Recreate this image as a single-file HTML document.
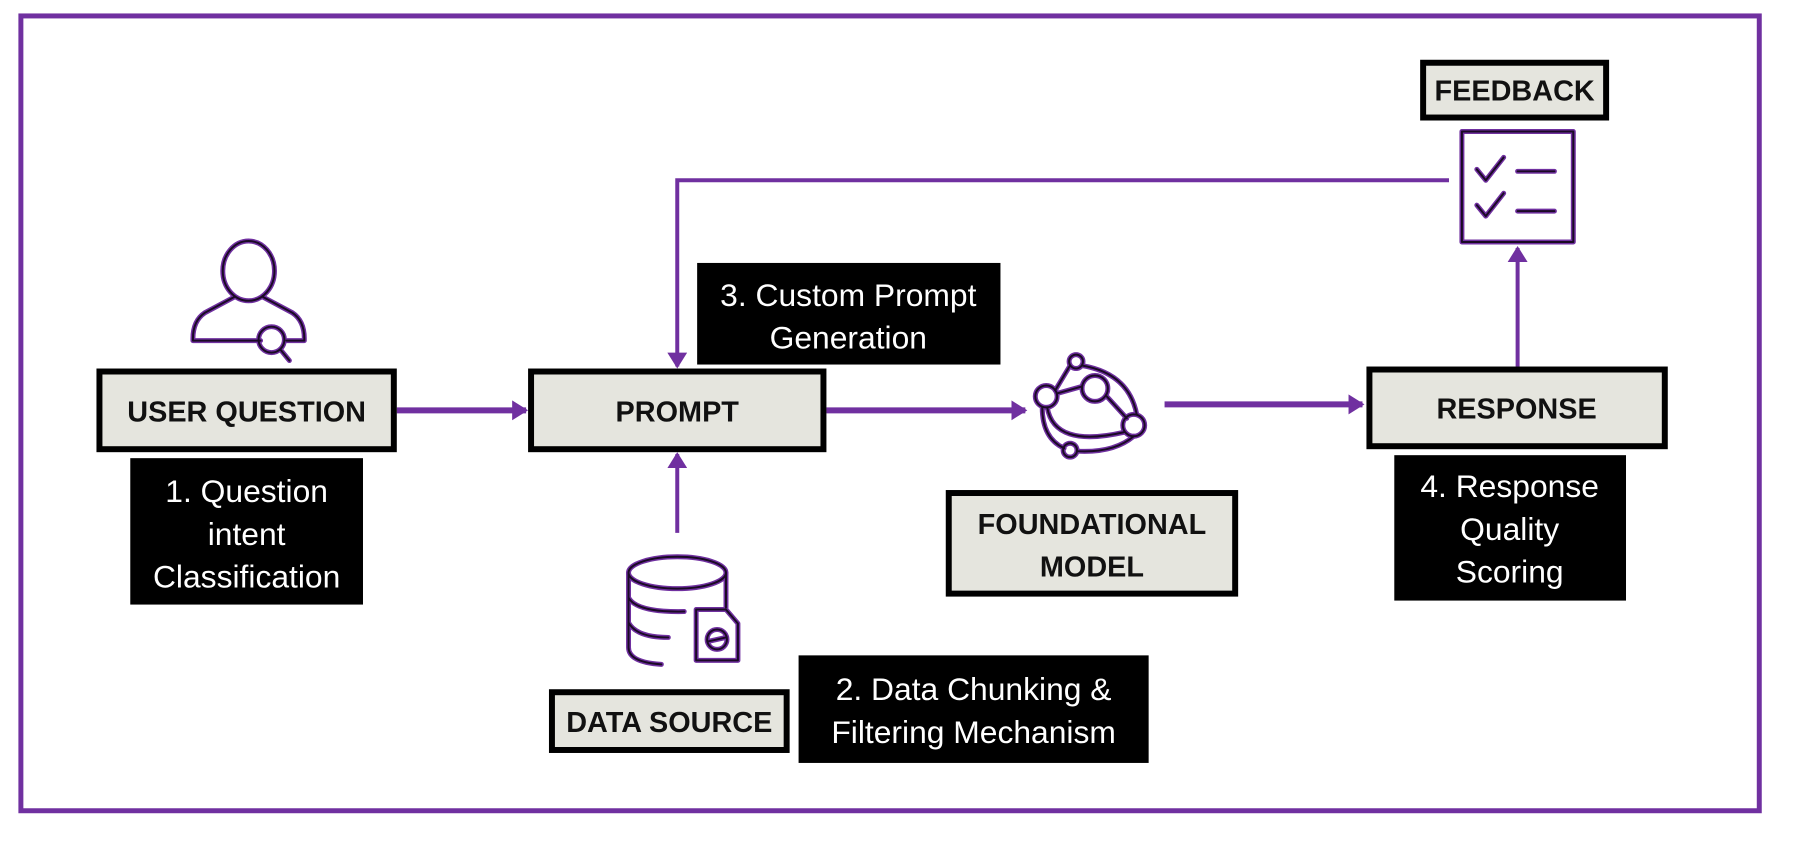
<!DOCTYPE html>
<html><head><meta charset="utf-8"><style>
html,body{margin:0;padding:0;background:#fff;}
svg{display:block;}
.bt{font-family:"Liberation Sans",sans-serif;font-weight:bold;font-size:29px;fill:#111;}
.lt{font-family:"Liberation Sans",sans-serif;font-size:32px;fill:#fff;}
</style></head><body>
<svg width="1794" height="851" viewBox="0 0 1794 851" xmlns="http://www.w3.org/2000/svg">
<defs>
<marker id="ah2" markerWidth="16" markerHeight="20" refX="14" refY="10" orient="auto" markerUnits="userSpaceOnUse" viewBox="0 0 16 20">
<path d="M0,0 L16,10 L0,20 z" fill="#7030a0"/></marker>
</defs>
<g transform="scale(0.9945,0.996)">
<rect x="21" y="16" width="1748" height="798" fill="none" stroke="#7030a0" stroke-width="5"/>

<g stroke="#7030a0" fill="none">
<line x1="399" y1="412" x2="529" y2="412" stroke-width="6" marker-end="url(#ah2)"/>
<line x1="831" y1="412" x2="1031" y2="412" stroke-width="6" marker-end="url(#ah2)"/>
<line x1="1171" y1="406" x2="1370" y2="406" stroke-width="6" marker-end="url(#ah2)"/>
<polyline points="1457,181 681,181 681,368" stroke-width="4" marker-end="url(#ah2)"/>
<line x1="681" y1="535" x2="681" y2="456" stroke-width="4" marker-end="url(#ah2)"/>
<line x1="1526" y1="368" x2="1526" y2="249" stroke-width="4" marker-end="url(#ah2)"/>
</g>

<g fill="#e5e5de" stroke="#000" stroke-width="6">
<rect x="100" y="373" width="296" height="78"/>
<rect x="534" y="373" width="294" height="78"/>
<rect x="1377" y="371" width="297" height="77"/>
<rect x="1431" y="63" width="184" height="55"/>
<rect x="954" y="495" width="288" height="101"/>
<rect x="555" y="695" width="236" height="58"/>
</g>
<text class="bt" x="248" y="423" text-anchor="middle">USER QUESTION</text>
<text class="bt" x="681" y="423" text-anchor="middle">PROMPT</text>
<text class="bt" x="1525" y="420" text-anchor="middle">RESPONSE</text>
<text class="bt" x="1523" y="101" text-anchor="middle">FEEDBACK</text>
<text class="bt" x="1098" y="536" text-anchor="middle">FOUNDATIONAL</text>
<text class="bt" x="1098" y="579" text-anchor="middle">MODEL</text>
<text class="bt" x="673" y="735" text-anchor="middle">DATA SOURCE</text>

<rect x="131" y="460" width="234" height="147" fill="#000"/>
<text class="lt" x="248" y="504" text-anchor="middle">1. Question</text>
<text class="lt" x="248" y="547" text-anchor="middle">intent</text>
<text class="lt" x="248" y="590" text-anchor="middle">Classification</text>
<rect x="701" y="264" width="305" height="102" fill="#000"/>
<text class="lt" x="853" y="307" text-anchor="middle">3. Custom Prompt</text>
<text class="lt" x="853" y="350" text-anchor="middle">Generation</text>
<rect x="1402" y="457" width="233" height="146" fill="#000"/>
<text class="lt" x="1518" y="499" text-anchor="middle">4. Response</text>
<text class="lt" x="1518" y="542" text-anchor="middle">Quality</text>
<text class="lt" x="1518" y="585" text-anchor="middle">Scoring</text>
<rect x="803" y="658" width="352" height="108" fill="#000"/>
<text class="lt" x="979" y="703" text-anchor="middle">2. Data Chunking &amp;</text>
<text class="lt" x="979" y="746" text-anchor="middle">Filtering Mechanism</text>

<g fill="none" stroke-linecap="round" stroke-linejoin="round">
<g stroke="#7030a0" stroke-width="5">
 <ellipse cx="250" cy="272" rx="26" ry="30"/>
 <path d="M236,298 L206,314 Q194,322 194,340 L194,342 L262,342 M288,342 L306,342 L306,340 Q306,322 294,314 L264,298"/>
 <circle cx="273" cy="341" r="13"/><line x1="282" y1="351" x2="291" y2="362"/>
 <circle cx="1082" cy="363" r="7"/><circle cx="1101" cy="390" r="13"/><circle cx="1052" cy="398" r="11"/><circle cx="1140" cy="427" r="11"/><circle cx="1076" cy="452" r="7"/>
 <path d="M1088,367 Q1135,375 1143,416"/><path d="M1063,395 L1088,388 M1112,397 L1133,420"/><path d="M1053,409 Q1060,450 1130,434"/><path d="M1048,409 Q1048,440 1070,450 M1083,453 Q1120,455 1140,438"/><path d="M1061,392 L1076,367"/>
 <ellipse cx="681" cy="575" rx="49" ry="16"/>
 <path d="M632,575 L632,650 Q632,665 665,667 M730,575 L730,610 M632,600 Q640,615 688,614 M632,625 Q640,640 672,640"/>
 <path d="M700,612 L730,612 L742,626 L742,663 L700,663 Z"/><circle cx="721" cy="642" r="10"/><line x1="712" y1="644" x2="730" y2="640"/>
 <rect x="1470" y="132" width="112" height="111"/>
 <path d="M1485,170 L1494,181 L1512,158 M1485,206 L1494,217 L1512,194"/><line x1="1526" y1="172" x2="1563" y2="172"/><line x1="1526" y1="212" x2="1563" y2="212"/>
</g>
<g stroke="#1a0a24" stroke-width="2">
 <ellipse cx="250" cy="272" rx="26" ry="30"/>
 <path d="M236,298 L206,314 Q194,322 194,340 L194,342 L262,342 M288,342 L306,342 L306,340 Q306,322 294,314 L264,298"/>
 <circle cx="273" cy="341" r="13"/><line x1="282" y1="351" x2="291" y2="362"/>
 <circle cx="1082" cy="363" r="7"/><circle cx="1101" cy="390" r="13"/><circle cx="1052" cy="398" r="11"/><circle cx="1140" cy="427" r="11"/><circle cx="1076" cy="452" r="7"/>
 <path d="M1088,367 Q1135,375 1143,416"/><path d="M1063,395 L1088,388 M1112,397 L1133,420"/><path d="M1053,409 Q1060,450 1130,434"/><path d="M1048,409 Q1048,440 1070,450 M1083,453 Q1120,455 1140,438"/><path d="M1061,392 L1076,367"/>
 <ellipse cx="681" cy="575" rx="49" ry="16"/>
 <path d="M632,575 L632,650 Q632,665 665,667 M730,575 L730,610 M632,600 Q640,615 688,614 M632,625 Q640,640 672,640"/>
 <path d="M700,612 L730,612 L742,626 L742,663 L700,663 Z"/><circle cx="721" cy="642" r="10"/><line x1="712" y1="644" x2="730" y2="640"/>
 <rect x="1470" y="132" width="112" height="111"/>
 <path d="M1485,170 L1494,181 L1512,158 M1485,206 L1494,217 L1512,194"/><line x1="1526" y1="172" x2="1563" y2="172"/><line x1="1526" y1="212" x2="1563" y2="212"/>
</g>
</g>
</g>
</svg>
</body></html>
